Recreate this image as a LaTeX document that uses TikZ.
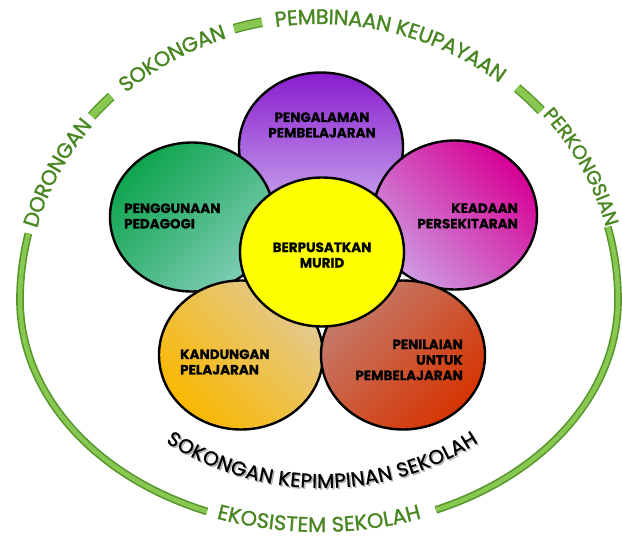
\documentclass[tikz,border=0pt]{standalone}
\usepackage{fontspec}
\setmainfont{Poppins}
\usetikzlibrary{shapes.geometric,decorations.text}
\definecolor{ringdark}{RGB}{86,150,44}
\definecolor{ringlight}{RGB}{136,200,80}
\definecolor{txtgreen}{RGB}{72,134,34}
\definecolor{purA}{RGB}{136,28,206}
\definecolor{purB}{RGB}{206,178,240}
\definecolor{grnA}{RGB}{14,164,78}
\definecolor{grnB}{RGB}{126,204,180}
\definecolor{magA}{RGB}{214,0,148}
\definecolor{magB}{RGB}{206,156,228}
\definecolor{orgA}{RGB}{250,184,0}
\definecolor{orgB}{RGB}{226,202,146}
\definecolor{redA}{RGB}{214,52,0}
\definecolor{redB}{RGB}{196,124,110}
\definecolor{yel}{RGB}{255,255,0}
\newcommand\outerfont{\fontsize{21}{21}\selectfont\addfontfeatures{FakeBold=1.2}\color{txtgreen}}
\newcommand\sidefont{\fontsize{19.5}{19.5}\selectfont\addfontfeatures{FakeBold=1.2}\color{txtgreen}}
\newcommand\innerarcfont{\fontsize{20}{20}\selectfont\addfontfeatures{FakeBold=1}\color{black}}
\newcommand\shadowarcfont{\fontsize{20}{20}\selectfont\addfontfeatures{FakeBold=1}\color{black!30}}
\newcommand\lblfont{\bfseries\fontsize{13.5}{15.5}\selectfont\addfontfeatures{FakeBold=0.8}}
\begin{document}
\begin{tikzpicture}[x=1pt,y=-1pt,
  petal/.style={ellipse, draw=black, line width=2.4pt, minimum width=164pt, minimum height=149pt, inner sep=0pt},
  lbl/.style={font=\lblfont, text=black, inner sep=0pt},
  ringline/.style={draw=ringdark, double=ringlight, double distance=4.5pt, line width=1.6pt},
  dashline/.style={draw=ringdark, double=ringlight, double distance=7pt, line width=1.4pt},
  arctext/.style={decorate, decoration={text along path, text align=center, raise=-7pt, text={#1}}},
  arctextside/.style={decorate, decoration={text along path, text align=center, raise=-5pt, text={#1}}},
  arctextlow/.style={decorate, decoration={text along path, text align=center, raise=-4pt, text={#1}}},
]
\useasboundingbox (0,0) rectangle (622,538);
\fill[white] (0,0) rectangle (622,538);

% outer ring
\begin{scope}[shift={(319,300)}]
  \draw[ringline] (193.6:299 and 283) arc[start angle=193.6, end angle=180, x radius=299, y radius=283]
                   arc[start angle=180, end angle=112, x radius=299, y radius=228];
  \draw[ringline] (67:299 and 228) arc[start angle=67, end angle=0, x radius=299, y radius=228]
                   arc[start angle=360, end angle=345, x radius=299, y radius=283];
  \draw[dashline] (220.5:299 and 283) arc[start angle=220.5, end angle=226, x radius=299, y radius=283];
  \draw[dashline] (253.5:299 and 283) arc[start angle=253.5, end angle=259, x radius=299, y radius=283];
  \draw[dashline] (311.5:299 and 283) arc[start angle=311.5, end angle=318, x radius=299, y radius=283];
  \path[arctext={|\outerfont|DORONGAN}] (185:299 and 283) arc[start angle=185, end angle=229, x radius=299, y radius=283];
  \path[arctext={|\outerfont|SOKONGAN}] (218:299 and 283) arc[start angle=218, end angle=262, x radius=299, y radius=283];
  \path[arctext={|\outerfont|PEMBINAAN KEUPAYAAN}] (245:299 and 283) arc[start angle=245, end angle=325, x radius=299, y radius=283];
  \path[arctextside={|\sidefont|PERKONGSIAN}] (309:302 and 286) arc[start angle=309, end angle=355, x radius=302, y radius=286];
  \path[arctextlow={|\outerfont|EKOSISTEM SEKOLAH}] (135:299 and 228) arc[start angle=135, end angle=45, x radius=299, y radius=228];
\end{scope}

% inner arc text
\begin{scope}[shift={(323.5,199.5)}]
  \path[arctext={|\shadowarcfont|SOKONGAN KEPIMPINAN SEKOLAH}] (145:283) arc[start angle=145, end angle=35, radius=283];
\end{scope}
\begin{scope}[shift={(322,198)}]
  \path[arctext={|\innerarcfont|SOKONGAN KEPIMPINAN SEKOLAH}] (145:283) arc[start angle=145, end angle=35, radius=283];
\end{scope}

% petals
\node[petal, top color=purA, bottom color=purB] (pur) at (321,147) {};
\node[petal, top color=grnA, bottom color=grnB, shading angle=45] (grn) at (192,217) {};
\node[petal, top color=magA, bottom color=magB, shading angle=-45] (mag) at (455,215) {};
\node[petal, top color=orgB, bottom color=orgA, shading angle=-45] (org) at (241,355) {};
\node[petal, top color=redB, bottom color=redA, shading angle=45] (red) at (403,355) {};
\node[petal, fill=yel] (yel) at (322,252) {};

% labels
\node[lbl, align=center] (tpur) at (322,125) {PENGALAMAN\\PEMBELAJARAN};
\node[lbl, align=left, anchor=west] (tgrn) at (124,216) {PENGGUNAAN\\PEDAGOGI};
\node[lbl, align=right, anchor=east] (tmag) at (518,216) {KEADAAN\\PERSEKITARAN};
\node[lbl, align=center] (tyel) at (322,255) {BERPUSATKAN\\MURID};
\node[lbl, align=left, anchor=west] (torg) at (180,362) {KANDUNGAN\\PELAJARAN};
\node[lbl, align=right, anchor=east] (tred) at (463,360) {PENILAIAN\\UNTUK\\PEMBELAJARAN};
\end{tikzpicture}
\end{document}
